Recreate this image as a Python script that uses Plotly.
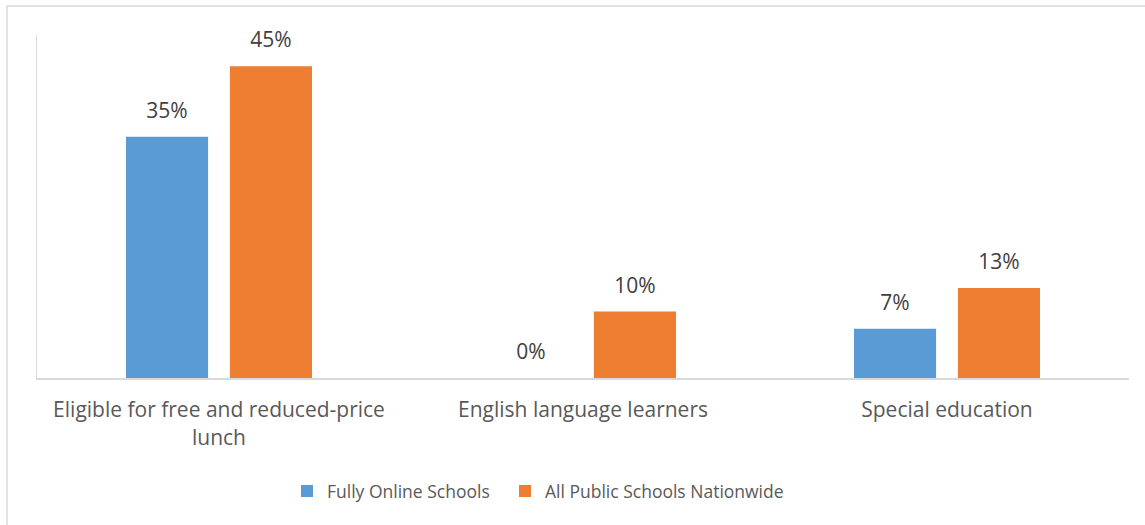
import plotly.graph_objects as go

categories = ["Eligible for free and reduced-price<br>lunch", "English language learners", "Special education"]
online_values = [34.8, 0, 7.1]
public_values = [45, 9.6, 13]
series_names = ["Fully Online Schools", "All Public Schools Nationwide"]
colors = ["#5B9BD5", "#ED7D31"]

FONT = "Open Sans"
L, R, T, B = 37, 16, 35, 147
W, H = 1145, 525
pw, ph = W - L - R, H - T - B

fig = go.Figure()
legends = ["legend", "legend2"]
for name, vals, col, lg in zip(series_names, [online_values, public_values], colors, legends):
    fig.add_trace(go.Bar(x=categories, y=vals, name=name, marker_color=col,
                         marker_line_width=0, hoverinfo="skip", legend=lg))
for name, vals in zip(series_names, [online_values, public_values]):
    fig.add_trace(go.Scatter(x=categories, y=vals, mode="markers+text",
                             text=[f"{v:.0f}%" for v in vals], textposition="top center",
                             marker=dict(size=20, color="rgba(0,0,0,0)"),
                             textfont=dict(family=FONT, size=21, color="#404040"),
                             cliponaxis=False, showlegend=False, hoverinfo="skip"))

leg_common = dict(orientation="h", xanchor="left", y=-0.33, yanchor="middle",
                  font=dict(family=FONT, size=17.5, color="#595959"), bgcolor="rgba(0,0,0,0)")

fig.update_layout(
    width=W, height=H,
    margin=dict(l=L, r=R, t=T, b=B),
    barmode="group", bargap=0.429, bargroupgap=0.21,
    scattermode="group", scattergap=0.429,
    plot_bgcolor="white", paper_bgcolor="white",
    font=dict(family=FONT, color="#595959"),
    showlegend=True,
    legend=dict(x=(287 - L) / pw, **leg_common),
    legend2=dict(x=(505 - L) / pw, **leg_common),
    xaxis=dict(showline=True, linecolor="#D9D9D9", linewidth=2, ticks="outside",
               ticklen=12, tickcolor="rgba(0,0,0,0)", tickfont=dict(family=FONT, size=21, color="#595959"),
               showgrid=False, zeroline=False),
    yaxis=dict(range=[0, 49.5], showline=True, linecolor="#D9D9D9", linewidth=1,
               showticklabels=False, ticks="", showgrid=False, zeroline=False),
    shapes=[dict(type="rect", xref="paper", yref="paper",
                 x0=(7 - L) / pw, x1=(W + 10 - L) / pw,
                 y0=-(H + 10 - T - ph) / ph, y1=(ph + T - 6) / ph,
                 line=dict(color="#D9D9D9", width=1.5), fillcolor="rgba(0,0,0,0)", layer="below")],
)
fig.write_html("out.html", config={"displayModeBar": False},
               post_script="document.body.style.margin='0px';")
